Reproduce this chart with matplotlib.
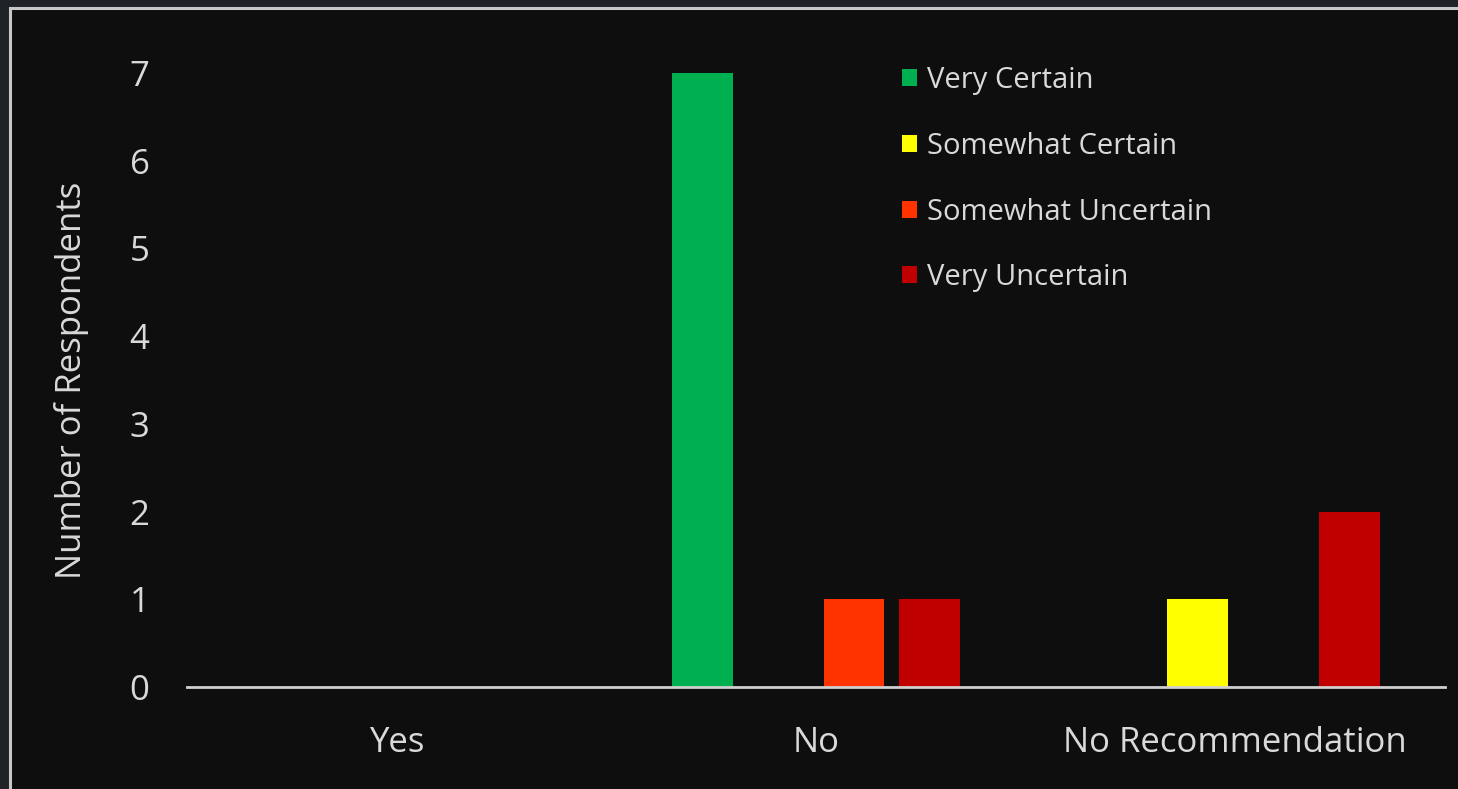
import matplotlib
matplotlib.use("Agg")
import matplotlib.pyplot as plt
from matplotlib.patches import Rectangle
import numpy as np

categories = ["Yes", "No", "No Recommendation"]
series_names = ["Very Certain", "Somewhat Certain", "Somewhat Uncertain", "Very Uncertain"]
very_certain = [0, 7, 0]
somewhat_certain = [0, 0, 1]
somewhat_uncertain = [0, 1, 0]
very_uncertain = [0, 1, 2]
series_colors = ["#00b050", "#ffff00", "#ff3300", "#c00000"]

plt.rcParams['font.family'] = ['Open Sans', 'DejaVu Sans']
text_color = "#d9d9d9"

fig = plt.figure(figsize=(14.58, 7.89), dpi=100, facecolor="#1f2327")

# dark chart area with a light border on top and left
panel = Rectangle((10 / 1458, -0.05), 1.2, 1 - 7.5 / 789 + 0.05,
                  transform=fig.transFigure, facecolor="#0e0e0e",
                  edgecolor="#c8c8c8", linewidth=2.2, zorder=-10)
fig.patches.append(panel)

ax = fig.add_axes([187 / 1458, 1 - 687 / 789, 1258 / 1458, 614 / 789])
ax.set_facecolor("none")

x = np.arange(len(categories))
slot = 0.181
bar_w = 0.145
all_values = [very_certain, somewhat_certain, somewhat_uncertain, very_uncertain]
for i, (name, vals, col) in enumerate(zip(series_names, all_values, series_colors)):
    ax.bar(x + (i - 1.5) * slot, vals, width=bar_w, color=col, label=name, zorder=2)

ax.set_xlim(-0.5, 2.5)
ax.set_ylim(0, 7)
ax.set_yticks(range(0, 8))
ax.set_xticks(x)
ax.set_xticklabels(categories)

for side in ["top", "right", "left"]:
    ax.spines[side].set_visible(False)
ax.spines["bottom"].set_color("#d0d0d0")
ax.spines["bottom"].set_linewidth(2)
ax.spines["bottom"].set_zorder(3)

ax.tick_params(axis="y", length=0, pad=27, labelsize=25, labelcolor=text_color)
ax.tick_params(axis="x", length=0, pad=28, labelsize=25, labelcolor=text_color)

ax.set_ylabel("Number of Respondents", fontsize=25, color=text_color)
ax.yaxis.set_label_coords(-0.078, 0.5)

leg = ax.legend(loc="upper left", bbox_to_anchor=(902 / 1458, 1 - 66 / 789),
                bbox_transform=fig.transFigure, frameon=False, fontsize=21,
                handlelength=0.52, handleheight=0.52, handletextpad=0.35,
                labelspacing=1.26, borderpad=0, borderaxespad=0)
for t in leg.get_texts():
    t.set_color(text_color)

fig.savefig("out.png", dpi=100, facecolor=fig.get_facecolor())
